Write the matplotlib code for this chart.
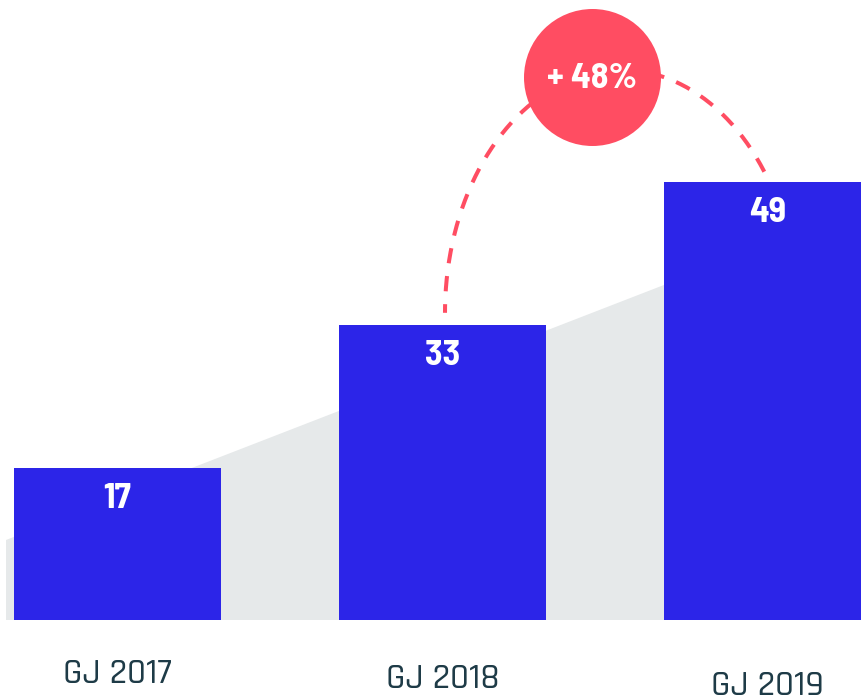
import matplotlib
matplotlib.use("Agg")
import matplotlib.pyplot as plt
import numpy as np
from matplotlib.patches import Ellipse, Polygon

# data
categories = ["GJ 2017", "GJ 2018", "GJ 2019"]
values = [17, 33, 49]
growth_label = "+ 48%"

BAR_COLOR = "#2C25E8"
BACK_COLOR = "#E6E9EA"
ACCENT = "#FF4D62"
TEXT_COLOR = "#1E3B47"

LABEL_FONT = ["Rajdhani", "DejaVu Sans"]
NUMBER_FONT = ["Barlow Semi Condensed", "Barlow", "DejaVu Sans"]

# pixel geometry of the canvas (861 x 700)
W, H = 861, 700
PX_X = 325.0      # pixels per category step
PX_Y = 8.93       # pixels per unit value
X0_PX = 117.5     # first bar centre
BASE_PX = 80.0    # baseline from bottom

fig = plt.figure(figsize=(W / 100, H / 100), dpi=100)
ax = fig.add_axes([0, 0, 1, 1])
ax.set_xlim(-X0_PX / PX_X, (W - X0_PX) / PX_X)
ax.set_ylim(-BASE_PX / PX_Y, (H - BASE_PX) / PX_Y)
ax.axis("off")

x = np.arange(len(values))

# grey rising backdrop
back = Polygon(
    [(-0.343, 0), (-0.343, 8.96), (1.9, 40.6), (1.9, 0)],
    closed=True, facecolor=BACK_COLOR, edgecolor="none", zorder=1,
)
ax.add_patch(back)

bars = ax.bar(x, values, width=207 / PX_X, color=BAR_COLOR, zorder=2)

for xi, v in zip(x, values):
    ax.annotate(
        str(v), (xi, v), xytext=(0, -22), textcoords="offset points",
        ha="center", va="center", color="white", fontsize=26,
        fontweight="bold", family=NUMBER_FONT, zorder=4,
    )

# category labels, stepped downwards like the original
label_drop = [53, 58, 65]
for xi, cat, d in zip(x, categories, label_drop):
    ax.annotate(
        cat, (xi, 0), xytext=(0, -d * 0.72), textcoords="offset points",
        ha="center", va="center", color=TEXT_COLOR, fontsize=26,
        fontweight="medium", family=LABEL_FONT,
    )

# dashed arc from bar 2 to bar 3
cx, cy = 1 + (621 - 442.5) / PX_X, values[1] + 1.4
a, b = 176 / PX_X, 243 / PX_Y
t = np.radians(np.linspace(35.5, 180, 200))
ax.plot(
    cx + a * np.cos(t), cy + b * np.sin(t),
    color=ACCENT, lw=2.9, dashes=(3.8, 3.2), solid_capstyle="butt",
    dash_capstyle="butt", zorder=3,
)

# growth badge
bx, by = 1 + (592.5 - 442.5) / PX_X, (H - 77.5 - BASE_PX) / PX_Y
badge = Ellipse((bx, by), 137 / PX_X, 137 / PX_Y, facecolor=ACCENT,
                edgecolor="none", zorder=5)
ax.add_patch(badge)
ax.text(bx, by - 0.2, growth_label, ha="center", va="center", color="white",
        fontsize=26, fontweight="bold", family=NUMBER_FONT, zorder=6)

fig.savefig("out.png", dpi=100)
